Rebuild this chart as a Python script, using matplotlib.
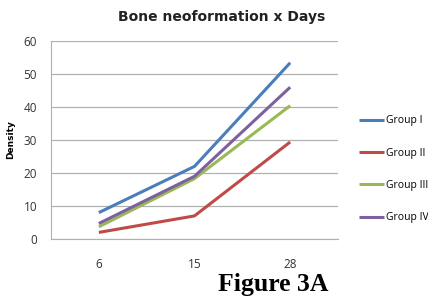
import matplotlib
matplotlib.use("Agg")
import matplotlib.pyplot as plt

days = ["6", "15", "28"]
group_i = [8, 22, 53.4]
group_ii = [2, 7, 29.4]
group_iii = [3.7, 18.3, 40.4]
group_iv = [4.7, 19, 46]

series = {
    "Group I": (group_i, "#4a7ebb"),
    "Group II": (group_ii, "#be4b48"),
    "Group III": (group_iii, "#98b954"),
    "Group IV": (group_iv, "#7d60a0"),
}

fig = plt.figure(figsize=(4.28, 3.04), dpi=100)
ax = fig.add_axes([51 / 428, 1 - 239 / 304, 287 / 428, 198 / 304])

x = range(len(days))
for name, (vals, color) in series.items():
    ax.plot(x, vals, color=color, lw=2.2, label=name, solid_capstyle="butt")

ax.set_xlim(-0.5, 2.5)
ax.set_ylim(0, 60)
ax.set_yticks(range(0, 61, 10))
ax.set_xticks(list(x))
ax.set_xticklabels(days)
ax.tick_params(length=0, labelsize=8.5, colors="#333333", labelfontfamily="Open Sans")
ax.tick_params(axis="x", pad=14)
ax.tick_params(axis="y", pad=10)
ax.grid(axis="y", color="#b0b0b0", lw=0.9)
ax.set_axisbelow(True)
for s in ["top", "right"]:
    ax.spines[s].set_visible(False)
ax.spines["left"].set_color("#b0b0b0")
ax.spines["bottom"].set_color("#b0b0b0")

ax.set_ylabel("Density", fontsize=6.5, fontweight="bold")
ax.yaxis.set_label_coords(-36 / 287, 0.5)

fig.text(222 / 428, 1 - 17 / 304, "Bone neoformation x Days", ha="center", va="center",
         fontsize=10, fontweight="bold", color="#222222")

leg = fig.legend(loc="upper left", bbox_to_anchor=(355 / 428, 1 - 111 / 304), frameon=False,
                 labelspacing=2.05, handlelength=2.4, handletextpad=0.15, borderaxespad=0,
                 prop={"family": "Open Sans", "size": 7.5})

fig.text(273 / 428, 1 - 285 / 304, "Figure 3A", ha="center", va="center",
         fontsize=18.5, fontweight="bold", family="Liberation Serif")

fig.savefig("out.png", dpi=100)
